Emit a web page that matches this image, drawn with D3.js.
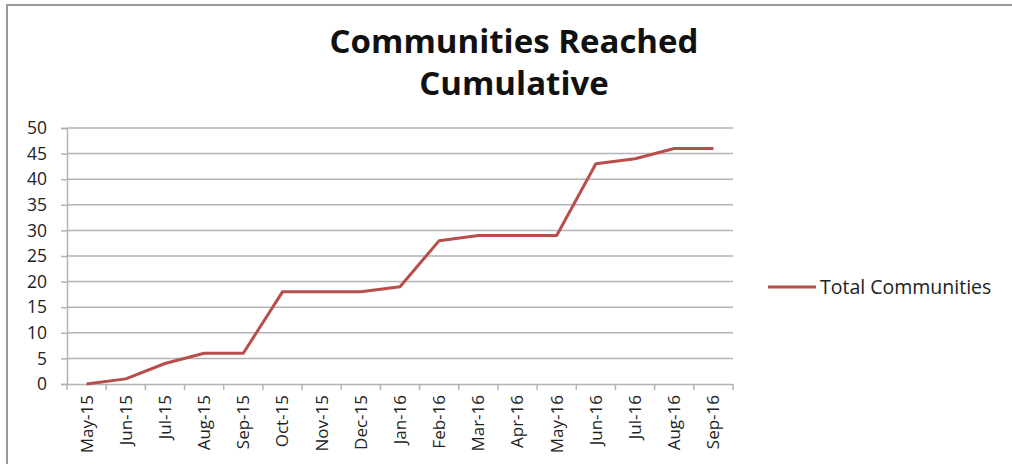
<!DOCTYPE html>
<html><head><meta charset="utf-8">
<script src="https://cdn.jsdelivr.net/npm/d3@7"></script>
<style>body{margin:0;background:#fff}svg{display:block}</style>
</head><body>
<svg id="c" width="1012" height="464"></svg>
<script>
const categories = ["May-15","Jun-15","Jul-15","Aug-15","Sep-15","Oct-15","Nov-15","Dec-15","Jan-16","Feb-16","Mar-16","Apr-16","May-16","Jun-16","Jul-16","Aug-16","Sep-16"];
const totalCommunities = [0,1,4,6,6,18,18,18,19,28,29,29,29,43,44,46,46];
const yTicks = [0,5,10,15,20,25,30,35,40,45,50];
const titleLines = ["Communities Reached","Cumulative"];
const seriesName = "Total Communities";

const svg = d3.select("#c");
const font = "'Open Sans', 'Noto Sans', sans-serif";
const grid = "#b3b3b3";
const lineColor = "#b84e4b";

// outer border
svg.append("path").attr("d","M7,464 L7,5 L1012,5").attr("fill","none").attr("stroke","#9a9a9a").attr("stroke-width",2);

const m = {left:67, right:733, top:128, bottom:384};
const x = d3.scaleBand().domain(categories).range([m.left, m.right]);
const y = d3.scaleLinear().domain([0,50]).range([m.bottom, m.top]);

// gridlines
svg.append("g").selectAll("line").data(yTicks.filter(d=>d>0)).join("line")
  .attr("x1",m.left).attr("x2",m.right).attr("y1",d=>y(d)).attr("y2",d=>y(d))
  .attr("stroke",grid).attr("stroke-width",1.5);

// y axis
const ya = svg.append("g").attr("transform",`translate(${m.left},0)`)
  .call(d3.axisLeft(y).tickValues(yTicks).tickSize(6).tickPadding(14));
ya.select(".domain").attr("stroke",grid).attr("stroke-width",1.5);
ya.selectAll(".tick line").attr("stroke",grid).attr("stroke-width",1.5);
ya.selectAll("text").attr("font-family",font).attr("font-size",17.5).attr("fill","#222");

// x axis
const xa = svg.append("g").attr("transform",`translate(0,${m.bottom})`)
  .call(d3.axisBottom(x).tickSize(0));
xa.select(".domain").attr("stroke",grid).attr("stroke-width",1.5);
xa.selectAll(".tick text").attr("font-family",font).attr("font-size",17).attr("fill","#222")
  .attr("text-anchor","end").attr("transform","rotate(-90)").attr("x",-11).attr("y",0).attr("dy","0.35em");
// category boundary ticks
const bounds = categories.map(c=>x(c)).concat([m.right]);
svg.append("g").selectAll("line").data(bounds).join("line")
  .attr("x1",d=>d).attr("x2",d=>d).attr("y1",m.bottom).attr("y2",m.bottom+6)
  .attr("stroke",grid).attr("stroke-width",1.5);

// line
const line = d3.line().x((d,i)=>x(categories[i])+x.bandwidth()/2).y(d=>y(d));
svg.append("path").datum(totalCommunities).attr("d",line)
  .attr("fill","none").attr("stroke",lineColor).attr("stroke-width",3).attr("stroke-linejoin","round");

// title
svg.append("g").selectAll("text").data(titleLines).join("text")
  .attr("x",514).attr("y",(d,i)=>53+i*42).attr("text-anchor","middle")
  .attr("font-family",font).attr("font-weight","bold").attr("font-size",33).attr("fill","#111")
  .text(d=>d);

// legend
svg.append("line").attr("x1",768).attr("x2",816).attr("y1",287).attr("y2",287)
  .attr("stroke",lineColor).attr("stroke-width",3);
svg.append("text").attr("x",820).attr("y",287).attr("dy","0.35em")
  .attr("font-family",font).attr("font-size",19.5).attr("fill","#222").text(seriesName);
</script>
</body></html>
